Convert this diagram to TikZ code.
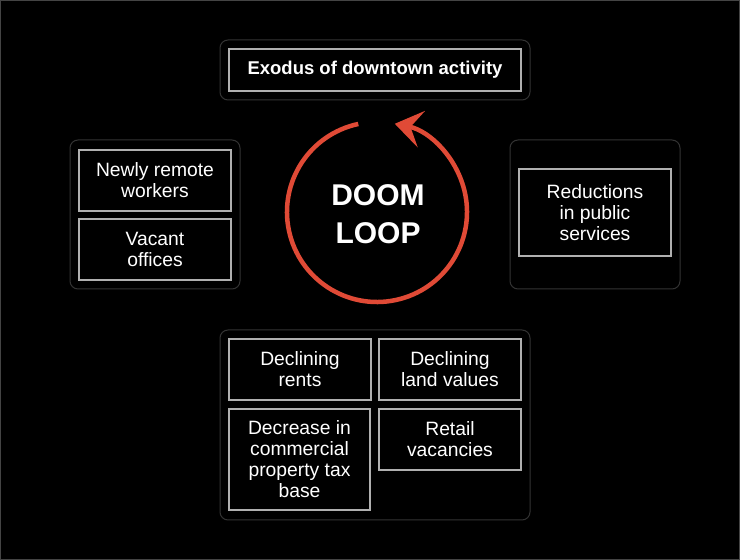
\documentclass[tikz,border=0pt]{standalone}
\usepackage{fontspec}
\setmainfont{Liberation Sans}
\usetikzlibrary{arrows.meta}
\definecolor{doomred}{HTML}{E04A36}
\definecolor{grpgray}{HTML}{333333}
\definecolor{boxgray}{HTML}{B0B0B0}
\definecolor{framegray}{HTML}{444444}
\tikzset{
  grp/.style={draw=grpgray, line width=1pt, rounded corners=8pt, inner sep=0pt},
  item/.style={draw=boxgray, line width=1.4pt, inner sep=0pt, text=white, align=center,
    font=\fontsize{19.3}{21}\selectfont},
  doom/.style={draw=doomred, line width=4.5pt, -{Stealth[length=27pt,width=37pt,inset=11pt]}},
}
\begin{document}
\begin{tikzpicture}[x=1pt,y=1pt]
\fill[black] (0,0) rectangle (740,560);
\useasboundingbox (0,0) rectangle (740,560);
\draw[framegray, line width=2pt] (0,0) rectangle (740,560);
% groups
\node[grp, minimum width=310pt, minimum height=60pt] (gtop) at (375,490) {};
\node[grp, minimum width=170pt, minimum height=149pt] (gleft) at (155,345.5) {};
\node[grp, minimum width=170pt, minimum height=149pt] (gright) at (595,345.5) {};
\node[grp, minimum width=310pt, minimum height=190pt] (gbot) at (375,135) {};
% items
\node[item, minimum width=292pt, minimum height=42pt, font=\fontsize{18.5}{21}\selectfont\bfseries] (exodus) at (375,490) {Exodus of downtown activity};
\node[item, minimum width=152pt, minimum height=61pt] (remote) at (155,379.5) {Newly remote\\workers};
\node[item, minimum width=152pt, minimum height=61pt] (vacant) at (155,310.5) {Vacant\\offices};
\node[item, minimum width=152pt, minimum height=87pt] (reduc) at (595,347.5) {Reductions\\in public\\services};
\node[item, minimum width=142pt, minimum height=61pt] (rents) at (300,190.5) {Declining\\rents};
\node[item, minimum width=142pt, minimum height=61pt] (land) at (450,190.5) {Declining\\land values};
\node[item, minimum width=141pt, minimum height=101pt] (decr) at (299.5,100.5) {Decrease in\\commercial\\property tax\\base};
\node[item, minimum width=142pt, minimum height=61pt] (retail) at (450,120.5) {Retail\\vacancies};
% doom loop
\coordinate (c) at (377,348);
\draw[doom] ([shift={(102:90)}]c) arc[start angle=102, end angle=438.6, radius=90];
\node[text=white, align=center, font=\fontsize{30}{38}\selectfont\bfseries] (loop) at (378,346) {DOOM\\LOOP};
\end{tikzpicture}
\end{document}
